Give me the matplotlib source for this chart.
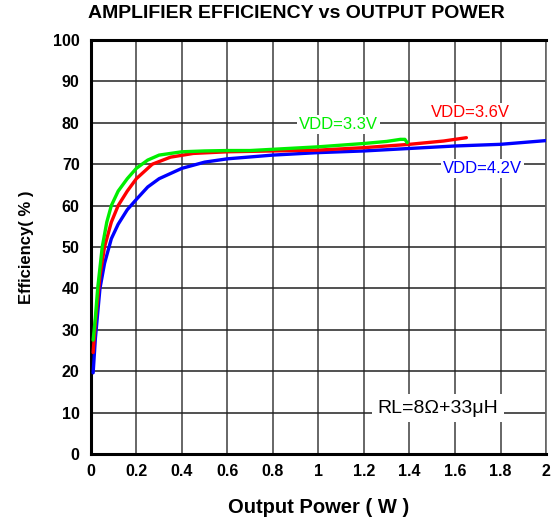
import matplotlib
matplotlib.use("Agg")
import matplotlib.pyplot as plt

plt.rcParams["font.family"] = ["Liberation Sans", "DejaVu Sans"]

# -----------------------------
# Data
# -----------------------------
x_33 = [0.01, 0.02, 0.03, 0.05, 0.07, 0.09, 0.12, 0.16, 0.2, 0.25, 0.3, 0.4,
        0.5, 0.6, 0.7, 0.8, 0.9, 1.0, 1.1, 1.2, 1.3, 1.36, 1.38, 1.39]
y_33 = [27.5, 33, 40, 50, 56, 60, 63.5, 66.5, 69, 71, 72.2, 73,
        73.2, 73.3, 73.3, 73.6, 73.9, 74.2, 74.6, 75, 75.5, 76, 76, 75.2]

x_36 = [0.01, 0.02, 0.04, 0.06, 0.09, 0.12, 0.16, 0.2, 0.27, 0.35, 0.45,
        0.6, 0.8, 1.0, 1.2, 1.4, 1.55, 1.65]
y_36 = [24.5, 32, 43, 50, 56, 60, 63.5, 66.5, 70, 71.7, 72.6,
        73, 73.2, 73.4, 74, 74.8, 75.6, 76.4]

x_42 = [0.01, 0.02, 0.04, 0.06, 0.09, 0.12, 0.16, 0.2, 0.25, 0.3, 0.4, 0.5,
        0.6, 0.8, 1.0, 1.2, 1.4, 1.6, 1.8, 2.0]
y_42 = [19.6, 28, 40, 46, 52, 55.5, 59, 61.5, 64.5, 66.5, 69, 70.5,
        71.3, 72.2, 72.8, 73.2, 73.8, 74.4, 74.8, 75.7]

x_ticks = [0, 0.2, 0.4, 0.6, 0.8, 1, 1.2, 1.4, 1.6, 1.8, 2]
x_ticklabels = ["0", "0.2", "0.4", "0.6", "0.8", "1", "1.2", "1.4", "1.6", "1.8", "2"]
y_ticks = list(range(0, 101, 10))

# -----------------------------
# Plot
# -----------------------------
fig = plt.figure(figsize=(5.54, 5.23), dpi=100)
ax = fig.add_axes([0.164, 0.132, 0.8216, 0.7915])

ax.plot(x_42, y_42, color="#0000ff", linewidth=2.4, solid_capstyle="round", zorder=3)
ax.plot(x_36, y_36, color="#ff0000", linewidth=2.4, solid_capstyle="round", zorder=4)
ax.plot(x_33, y_33, color="#00ee00", linewidth=2.4, solid_capstyle="round", zorder=5)

ax.set_xlim(0, 2)
ax.set_ylim(0, 100)
ax.set_xticks(x_ticks)
ax.set_xticklabels(x_ticklabels)
ax.set_yticks(y_ticks)
for lab in ax.get_xticklabels() + ax.get_yticklabels():
    lab.set_fontweight("bold")
    lab.set_fontsize(11.5)
ax.tick_params(axis="y", length=0, pad=8)
ax.tick_params(axis="x", length=0, pad=7)

ax.grid(True, axis="y", color="#222222", linewidth=1.1)
ax.grid(True, axis="x", color="#666666", linewidth=1.4)
ax.set_axisbelow(True)

for side in ["left", "bottom", "top"]:
    ax.spines[side].set_linewidth(2.2)
    ax.spines[side].set_color("black")
ax.spines["right"].set_linewidth(1.2)
ax.spines["right"].set_color("#666666")

box = dict(facecolor="white", edgecolor="none", pad=1.5)
ax.text(1.086, 79.5, "VDD=3.3V", color="#00ee00", fontsize=12, ha="center", va="center", bbox=box, zorder=6)
ax.text(1.666, 82.4, "VDD=3.6V", color="#ff0000", fontsize=12, ha="center", va="center", bbox=box, zorder=6)
ax.text(1.72, 69.0, "VDD=4.2V", color="#0000ff", fontsize=12, ha="center", va="center", bbox=box, zorder=6)
ax.text(1.525, 11.1, "RL=8Ω+33μH", color="black", fontsize=14, ha="center", va="center",
        bbox=dict(facecolor="white", edgecolor="none", pad=4), zorder=6)

fig.text(296 / 554, 1 - 14 / 523, "AMPLIFIER EFFICIENCY vs OUTPUT POWER",
         fontsize=14, fontweight="bold", ha="center", va="center")
ax.set_xlabel("Output Power ( W )", fontsize=14.5, fontweight="bold", labelpad=14)
ax.set_ylabel("Efficiency( % )", fontsize=12, fontweight="bold", labelpad=14)

fig.savefig("out.png", dpi=100)
